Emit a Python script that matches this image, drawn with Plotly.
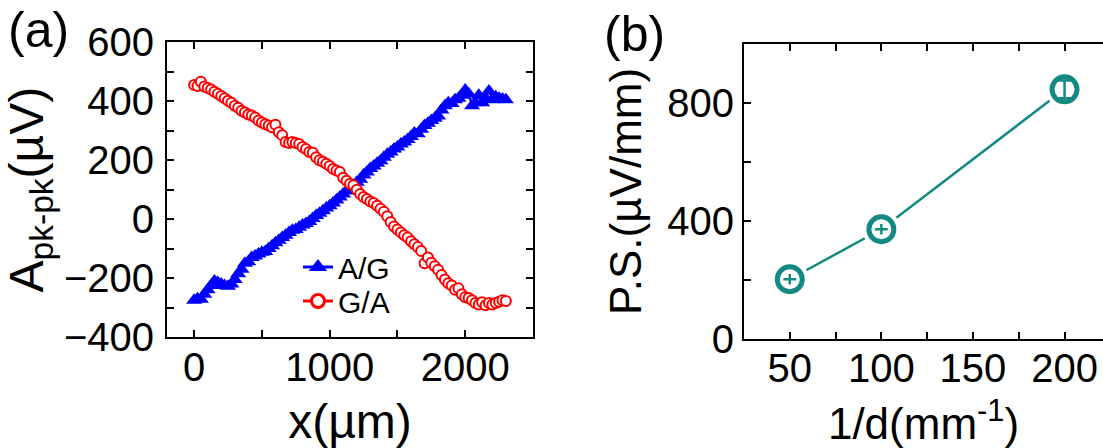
import plotly.graph_objects as go

# ---------------- data: panel (a) ----------------
x_um = [0, 25, 50, 75, 100, 125, 150, 175, 200, 225,
        250, 275, 300, 325, 350, 375, 400, 425, 450, 475,
        500, 525, 550, 575, 600, 625, 650, 675, 700, 725,
        750, 775, 800, 825, 850, 875, 900, 925, 950, 975,
        1000, 1025, 1050, 1075, 1100, 1125, 1150, 1175, 1200, 1225,
        1250, 1275, 1300, 1325, 1350, 1375, 1400, 1425, 1450, 1475,
        1500, 1525, 1550, 1575, 1600, 1625, 1650, 1675, 1700, 1725,
        1750, 1775, 1800, 1825, 1850, 1875, 1900, 1925, 1950, 1975,
        2000, 2025, 2050, 2075, 2100, 2125, 2150, 2175, 2200, 2225,
        2250, 2275, 2300]

ag_uV = [-275, -270, -272, -255, -240, -225, -210, -215, -220, -225,
         -228, -220, -205, -185, -170, -150, -145, -130, -125, -118,
         -112, -110, -100, -90, -80, -72, -62, -55, -45, -38,
         -35, -28, -20, -15, -8, 2, 12, 20, 28, 38,
         45, 55, 65, 75, 85, 95, 105, 115, 125, 135,
         150, 160, 172, 180, 190, 198, 210, 220, 228, 238,
         245, 255, 262, 270, 280, 292, 290, 305, 318, 325,
         335, 342, 350, 370, 385, 395, 392, 405, 410, 420,
         438, 425, 385, 395, 420, 395, 410, 435, 405, 415,
         410, 408, 405]

ga_uV = [455, 452, 466, 450, 445, 440, 432, 425, 418, 410,
         402, 395, 385, 378, 368, 362, 355, 352, 345, 335,
         328, 322, 318, 312, 320, 295, 285, 262, 258, 262,
         258, 255, 245, 238, 228, 225, 210, 200, 195, 188,
         180, 170, 165, 160, 140, 130, 120, 115, 100, 85,
         75, 68, 60, 55, 45, 35, 25, 10, -10, -25,
         -35, -45, -55, -62, -75, -85, -95, -108, -150, -130,
         -148, -160, -172, -190, -205, -218, -225, -240, -235, -255,
         -265, -268, -275, -285, -290, -282, -292, -285, -290, -285,
         -280, -275, -278]

# ---------------- data: panel (b) ----------------
inv_d = [50, 100, 200]
ps_uV_mm = [203, 372, 845]
ps_err_y = [18, 18, 30]
ps_err_x = [3.5, 3.5, 0]

FONT = "Liberation Sans, Arial, sans-serif"
TEAL = "#138983"
BLUE = "#0000ff"
RED = "#ff0000"
W, H = 1103, 448


def px_x(p):
    return p / W


def px_y(p):
    return 1 - p / H


fig = go.Figure()

# panel (a) data (legend drawn by separate legend-only entries)
fig.add_trace(go.Scatter(
    x=x_um, y=ag_uV, name="A/G", mode="lines+markers", showlegend=False,
    line=dict(color=BLUE, width=2),
    marker=dict(symbol="triangle-up", size=14, color=BLUE),
    xaxis="x", yaxis="y"))
fig.add_trace(go.Scatter(
    x=x_um, y=ga_uV, name="G/A", mode="lines+markers", showlegend=False,
    line=dict(color=RED, width=2),
    marker=dict(symbol="circle", size=10, color="white",
                line=dict(color=RED, width=2)),
    xaxis="x", yaxis="y"))

# legend entries (no data of their own)
fig.add_trace(go.Scatter(
    x=[None], y=[None], name="A/G", mode="lines+markers", legend="legend",
    line=dict(color=BLUE, width=3),
    marker=dict(symbol="triangle-up", size=16, color=BLUE),
    xaxis="x", yaxis="y"))
fig.add_trace(go.Scatter(
    x=[None], y=[None], name="G/A", mode="lines+markers", legend="legend2",
    line=dict(color=RED, width=3),
    marker=dict(symbol="circle", size=13, color="white",
                line=dict(color=RED, width=3)),
    xaxis="x", yaxis="y"))

# panel (b)
fig.add_trace(go.Scatter(
    x=inv_d, y=ps_uV_mm, mode="lines", showlegend=False,
    line=dict(color=TEAL, width=2.5), xaxis="x2", yaxis="y2"))
fig.add_trace(go.Scatter(
    x=inv_d, y=ps_uV_mm, mode="markers", showlegend=False,
    marker=dict(size=38, color="white"), xaxis="x2", yaxis="y2"))
fig.add_trace(go.Scatter(
    x=inv_d, y=ps_uV_mm, mode="markers", showlegend=False,
    marker=dict(size=25, color="white", line=dict(color=TEAL, width=5)),
    xaxis="x2", yaxis="y2"))
# error bars: "+" for the first two points, capped bar for the last
fig.add_trace(go.Scatter(
    x=inv_d[:2], y=ps_uV_mm[:2], mode="markers", showlegend=False,
    marker=dict(size=1, color="rgba(0,0,0,0)"),
    error_y=dict(type="data", array=ps_err_y[:2], color=TEAL, thickness=2.5, width=0),
    error_x=dict(type="data", array=ps_err_x[:2], color=TEAL, thickness=2.5, width=0),
    xaxis="x2", yaxis="y2"))
fig.add_trace(go.Scatter(
    x=inv_d[2:], y=ps_uV_mm[2:], mode="markers", showlegend=False,
    marker=dict(size=1, color="rgba(0,0,0,0)"),
    error_y=dict(type="data", array=ps_err_y[2:], color=TEAL, thickness=2.5, width=7),
    xaxis="x2", yaxis="y2"))

TICKFONT = dict(family=FONT, size=40, color="black")
common = dict(showline=True, linecolor="black", linewidth=2,
              ticks="inside", ticklen=7, tickwidth=1.5, tickcolor="black",
              showgrid=False, zeroline=False, automargin=False,
              tickfont=TICKFONT)
minor_common = dict(ticks="inside", ticklen=7, tickwidth=1.5, tickcolor="black")

legend_common = dict(xanchor="left", yanchor="middle",
                     bgcolor="rgba(0,0,0,0)", borderwidth=0,
                     font=dict(family=FONT, size=30, color="black"),
                     itemsizing="trace")

fig.update_layout(
    width=W, height=H,
    margin=dict(l=0, r=0, t=0, b=0, autoexpand=False),
    paper_bgcolor="white", plot_bgcolor="white",
    font=dict(family=FONT, color="black"),
    xaxis=dict(domain=[px_x(167), px_x(533)], range=[-200, 2500],
               tick0=0, dtick=1000, mirror="ticks", anchor="y",
               minor=dict(dtick=500, **minor_common),
               ticklabelstandoff=-6,
               title=dict(text="x(µm)", font=dict(family=FONT, size=48), standoff=24),
               **common),
    yaxis=dict(domain=[px_y(337), px_y(42.3)], range=[-400, 600],
               tick0=0, dtick=200, mirror="ticks", anchor="x",
               minor=dict(dtick=100, **minor_common),
               ticklabelstandoff=3,
               title=dict(text="A<sub>pk-pk</sub>(µV)", font=dict(family=FONT, size=48), standoff=19),
               **common),
    xaxis2=dict(domain=[px_x(744), 1.0], range=[25, 221],
                tick0=0, dtick=50, mirror="ticks", anchor="y2",
                minor=dict(dtick=25, **minor_common),
                ticklabelstandoff=-7,
                title=dict(text="1/d(mm<sup>-1</sup>)", font=dict(family=FONT, size=44), standoff=24),
                **common),
    yaxis2=dict(domain=[px_y(339.3), px_y(43.5)], range=[0, 1000],
                tick0=0, dtick=400, mirror=False, anchor="x2",
                minor=dict(dtick=200, **minor_common),
                ticklabelstandoff=0,
                title=dict(text="P.S.(µV/mm)", font=dict(family=FONT, size=44), standoff=12),
                **common),
    legend=dict(x=px_x(298), y=px_y(267), **legend_common),
    legend2=dict(x=px_x(298), y=px_y(301), **legend_common),
    annotations=[
        dict(text="(a)", x=px_x(6), y=px_y(0), xref="paper", yref="paper",
             xanchor="left", yanchor="top", showarrow=False,
             font=dict(family=FONT, size=50, color="black")),
        dict(text="(b)", x=px_x(602), y=px_y(4), xref="paper", yref="paper",
             xanchor="left", yanchor="top", showarrow=False,
             font=dict(family=FONT, size=50, color="black")),
    ],
)

fig.write_html("out.html")
